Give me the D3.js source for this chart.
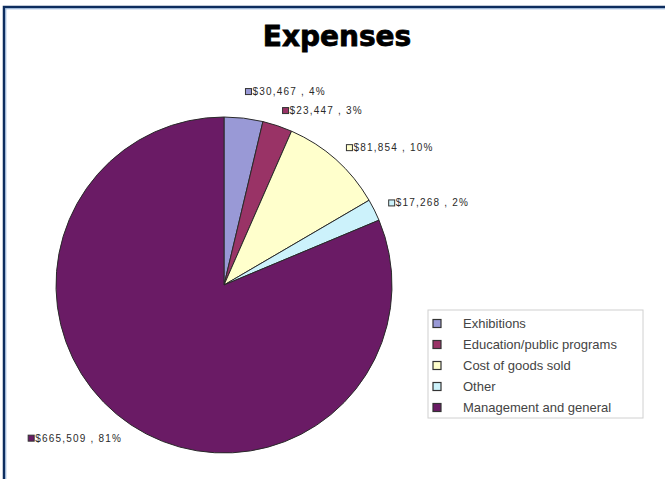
<!DOCTYPE html>
<html lang="en">
<head>
    <meta charset="UTF-8">
    <title>Expenses</title>
    <script src="https://d3js.org/d3.v7.min.js"></script>
    <style>
        body { margin: 0; background: #ffffff; }
        svg { display: block; }
        .titulo { font-family: "DejaVu Sans", sans-serif; font-weight: bold; font-size: 28px; fill: #000; stroke: #000; stroke-width: 0.8px; }
        .etiqueta { font-family: "Liberation Sans", Arial, sans-serif; font-size: 10px; fill: #2a2a2a; letter-spacing: 1.2px; }
        .leyenda { font-family: "Liberation Sans", Arial, sans-serif; font-size: 13px; fill: #444; }
    </style>
</head>
<body>
<svg width="665" height="479"></svg>
<script>
    // datos
    const categorias = ["Exhibitions", "Education/public programs", "Cost of goods sold", "Other", "Management and general"];
    const valores = [30467, 23447, 81854, 17268, 665509];
    const etiquetas = ["$30,467 , 4%", "$23,447 , 3%", "$81,854 , 10%", "$17,268 , 2%", "$665,509 , 81%"];
    const colores = ["#9999d6", "#993366", "#ffffcc", "#ccf2fb", "#6a1b65"];

    const width = 665, height = 479;
    const svg = d3.select("svg");

    // marco
    svg.append("rect")
        .attr("x", 4).attr("y", 7)
        .attr("width", width + 20).attr("height", height + 20)
        .attr("fill", "none").attr("stroke", "#0d2d5e").attr("stroke-width", 2.5);
    svg.append("rect")
        .attr("x", 5.8).attr("y", 8.8)
        .attr("width", width + 20).attr("height", height + 20)
        .attr("fill", "none").attr("stroke", "#8fb0d6").attr("stroke-width", 1);

    svg.append("text")
        .attr("class", "titulo")
        .attr("x", 337).attr("y", 46)
        .attr("text-anchor", "middle")
        .text("Expenses");

    const centro = { x: 224, y: 285 };
    const radio = 168;

    const pie = d3.pie().sort(null).value(d => d);
    const arcos = pie(valores);
    const arc = d3.arc().innerRadius(0).outerRadius(radio);

    const grupoPie = svg.append("g").attr("transform", `translate(${centro.x},${centro.y})`);
    grupoPie.selectAll("path")
        .data(arcos)
        .join("path")
        .attr("d", arc)
        .attr("fill", (d, i) => colores[i])
        .attr("stroke", "#2a2a2a")
        .attr("stroke-width", 1);

    // etiquetas de datos: posicion en el angulo medio, luego se separan las que chocan
    const radioEtiqueta = radio + 16;
    const separacion = 19;
    const pos = arcos.map(d => {
        const a = (d.startAngle + d.endAngle) / 2;
        return { a, x: Math.sin(a) * radioEtiqueta, y: -Math.cos(a) * radioEtiqueta };
    });
    for (let i = pos.length - 1; i > 0; i--) {
        const ant = pos[i - 1], act = pos[i];
        if (Math.sin(ant.a) >= 0 && Math.sin(act.a) >= 0 && act.y - ant.y < separacion) {
            ant.y = act.y - separacion;
        }
    }

    pos.forEach((p, i) => {
        const g = grupoPie.append("g");
        g.append("rect")
            .attr("x", 0).attr("y", -3)
            .attr("width", 6).attr("height", 6)
            .attr("fill", colores[i]).attr("stroke", "#333").attr("stroke-width", 1);
        const t = g.append("text")
            .attr("class", "etiqueta")
            .attr("x", 7).attr("y", 3.5)
            .text(etiquetas[i]);
        const ancho = 7 + t.node().getComputedTextLength();
        const gx = Math.sin(p.a) >= 0 ? p.x : p.x - ancho;
        g.attr("transform", `translate(${gx},${p.y})`);
    });

    // leyenda
    const leyenda = svg.append("g").attr("transform", "translate(428,310)");
    leyenda.append("rect")
        .attr("x", 0).attr("y", 0)
        .attr("width", 215).attr("height", 108)
        .attr("fill", "#fff").attr("stroke", "#d0d0d0").attr("stroke-width", 1);

    const y = d3.scaleBand().domain(categorias).range([3, 108]);
    const filas = leyenda.selectAll("g.fila")
        .data(categorias)
        .join("g")
        .attr("class", "fila")
        .attr("transform", d => `translate(0,${y(d) + y.bandwidth() / 2})`);
    filas.append("rect")
        .attr("x", 5).attr("y", -4)
        .attr("width", 8).attr("height", 8)
        .attr("fill", (d, i) => colores[i])
        .attr("stroke", "#333").attr("stroke-width", 1.2);
    filas.append("text")
        .attr("class", "leyenda")
        .attr("x", 35).attr("y", 4.5)
        .text(d => d);
</script>
</body>
</html>
